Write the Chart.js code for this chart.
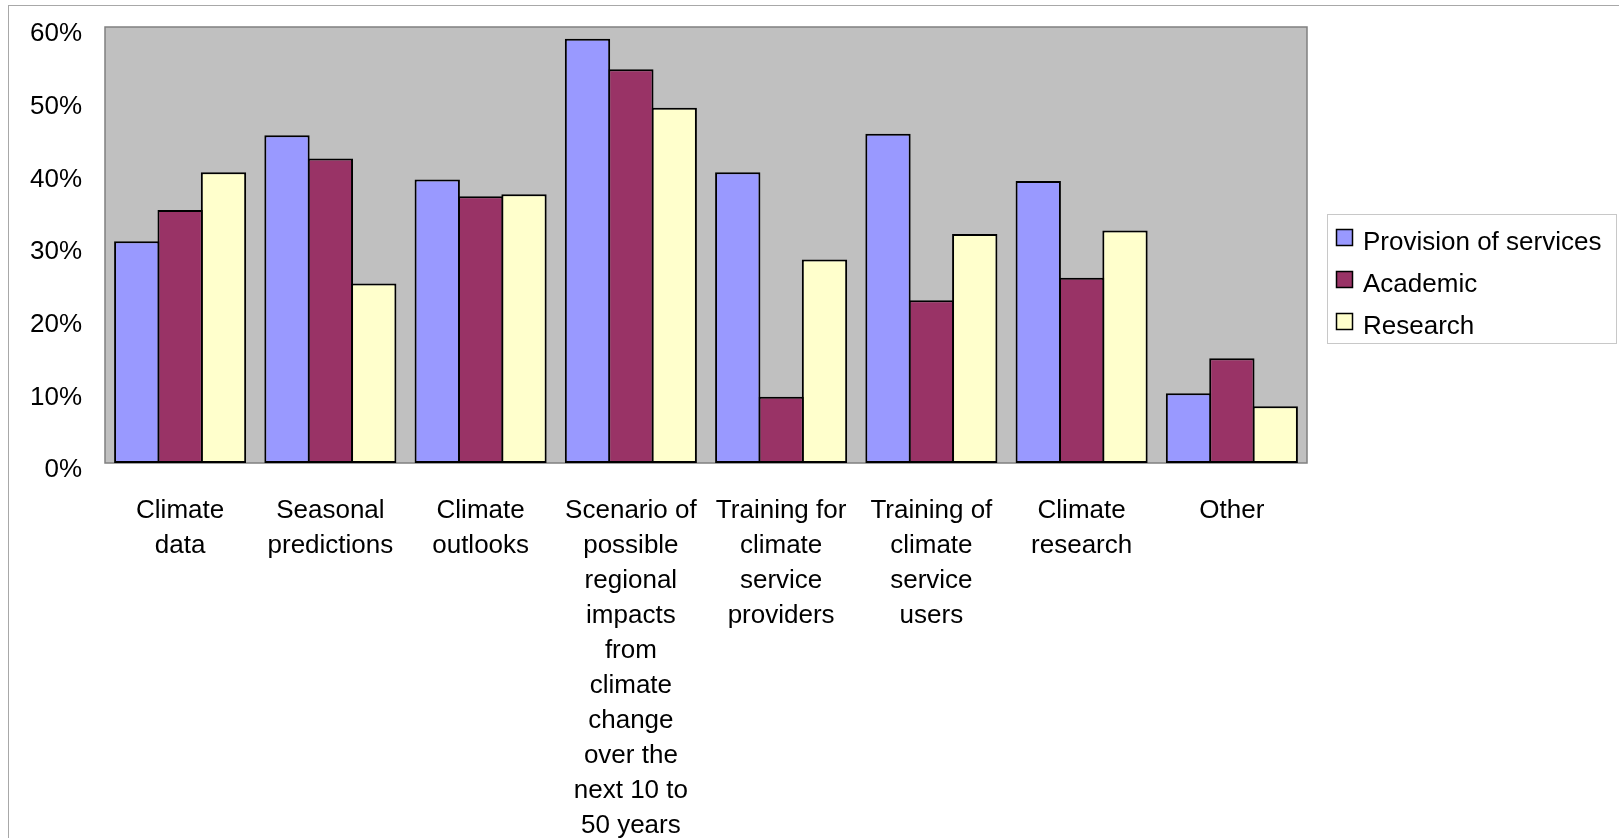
<!DOCTYPE html>
<html>
<head>
<meta charset="utf-8">
<script src="https://cdn.jsdelivr.net/npm/chart.js@4/dist/chart.umd.min.js"></script>
<style>
  html, body { margin: 0; padding: 0; background: #ffffff; }
  #wrap { width: 1619px; height: 838px; position: relative; }
</style>
</head>
<body>
<div id="wrap"><canvas id="c" width="1619" height="838"></canvas></div>
<script>
// Categories, each split into the lines it is printed on
const categories = [
  ['Climate', 'data'],
  ['Seasonal', 'predictions'],
  ['Climate', 'outlooks'],
  ['Scenario of', 'possible', 'regional', 'impacts', 'from', 'climate', 'change', 'over the', 'next 10 to', '50 years'],
  ['Training for', 'climate', 'service', 'providers'],
  ['Training of', 'climate', 'service', 'users'],
  ['Climate', 'research'],
  ['Other']
];

const seriesNames = ['Provision of services', 'Academic', 'Research'];

// Shares in percent
const provision = [30.5, 45.1, 39.0, 58.4, 40.0, 45.3, 38.8, 9.6];
const academic  = [34.8, 41.9, 36.7, 54.2, 9.1, 22.4, 25.5, 14.4];
const research  = [40.0, 24.7, 37.0, 48.9, 28.0, 31.5, 32.0, 7.8];

const yTickValues = [0, 10, 20, 30, 40, 50, 60];
const yTickLabels = ['0%', '10%', '20%', '30%', '40%', '50%', '60%'];

const colors = ['#9999ff', '#993366', '#ffffcc'];
const FONT = 'Liberation Sans, Arial, sans-serif';

const PLOT = { left: 105, right: 1307, top: 27, bottom: 463 };

const frame = {
  id: 'frame',
  beforeDraw(chart) {
    const ctx = chart.ctx, a = chart.chartArea;
    ctx.save();
    ctx.fillStyle = '#ffffff';
    ctx.fillRect(0, 0, chart.width, chart.height);
    ctx.strokeStyle = '#a8a8a8';
    ctx.lineWidth = 1;
    ctx.strokeRect(8.5, 5.5, chart.width + 20, chart.height + 20);
    ctx.fillStyle = '#c0c0c0';
    ctx.fillRect(a.left, a.top, a.right - a.left, a.bottom - a.top);
    ctx.restore();
  },
  beforeDatasetsDraw(chart) {
    const ctx = chart.ctx, a = chart.chartArea;
    ctx.save();
    ctx.strokeStyle = '#808080';
    ctx.lineWidth = 1.5;
    ctx.strokeRect(a.left, a.top, a.right - a.left, a.bottom - a.top);
    ctx.restore();
  },
  afterDraw(chart) {
    // legend box at the right
    const ctx = chart.ctx;
    const box = { x: 1327.5, y: 214.5, w: 289, h: 129 };
    ctx.save();
    ctx.strokeStyle = '#c8c8c8';
    ctx.lineWidth = 1;
    ctx.strokeRect(box.x, box.y, box.w, box.h);
    ctx.font = '26px ' + FONT;
    ctx.textAlign = 'left';
    ctx.textBaseline = 'alphabetic';
    chart.data.datasets.forEach((ds, i) => {
      const baseline = 250 + i * 42;
      ctx.fillStyle = ds.backgroundColor;
      ctx.fillRect(1336, baseline - 21, 17, 17);
      ctx.strokeStyle = '#000000';
      ctx.lineWidth = 1.5;
      ctx.strokeRect(1336.5, baseline - 20.5, 16, 16);
      ctx.fillStyle = '#000000';
      ctx.fillText(ds.label, 1363, baseline);
    });
    ctx.restore();
  }
};

// Bars are slightly wider than their slot so neighbours overlap by
// one border width and share a single edge line.
const datasets = [provision, academic, research].map((vals, i) => ({
  label: seriesNames[i],
  data: vals,
  backgroundColor: colors[i],
  borderColor: '#000000',
  borderWidth: 2,
  borderSkipped: false,
  inflateAmount: 0,
  categoryPercentage: 0.866,
  barPercentage: 1.045
}));

new Chart(document.getElementById('c'), {
  type: 'bar',
  data: { labels: categories, datasets },
  plugins: [frame],
  options: {
    responsive: false,
    animation: false,
    devicePixelRatio: 1,
    layout: { padding: { left: 8, top: PLOT.top, right: 1619 - PLOT.right, bottom: 0 } },
    plugins: { legend: { display: false }, tooltip: { enabled: false } },
    scales: {
      x: {
        grid: { display: false, drawTicks: false },
        border: { display: false },
        afterFit(scale) {
          scale.height = 838 - PLOT.bottom;
          scale.paddingLeft = 0;
          scale.paddingRight = 0;
        },
        ticks: {
          autoSkip: false,
          maxRotation: 0,
          minRotation: 0,
          padding: 30,
          color: '#000000',
          font: { family: FONT, size: 26, lineHeight: '35px' }
        }
      },
      y: {
        min: 0,
        max: 60,
        grid: { display: false, drawTicks: false },
        border: { display: false },
        afterFit(scale) {
          scale.width = PLOT.left - 8;
          scale.paddingTop = 0;
          scale.paddingBottom = 0;
        },
        afterBuildTicks(scale) { scale.ticks = yTickValues.map(v => ({ value: v })); },
        ticks: {
          padding: 23,
          labelOffset: 7,
          color: '#000000',
          font: { family: FONT, size: 26 },
          callback: (v) => yTickLabels[yTickValues.indexOf(v)]
        }
      }
    }
  }
});
</script>
</body>
</html>
